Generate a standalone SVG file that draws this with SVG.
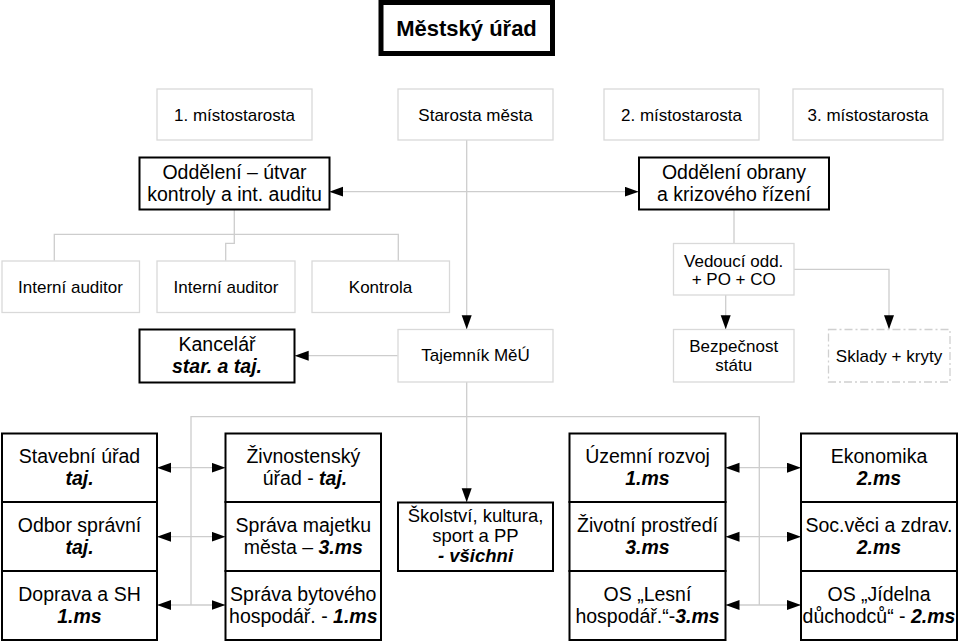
<svg xmlns="http://www.w3.org/2000/svg" width="959" height="642" viewBox="0 0 959 642">
<style>
.lb{fill:#fff;stroke:#d9d9d9;stroke-width:1.3}
.bb{fill:#fff;stroke:#000;stroke-width:2}
.ds{fill:#fff;stroke:#d0d0d0;stroke-width:1.3;stroke-dasharray:8 3 2 3}
text{font-family:"Liberation Sans",Arial,sans-serif;fill:#000;text-anchor:middle}
.s17{font-size:17px}
.s19{font-size:19.5px}
.s18{font-size:18.5px}
.bi{font-weight:bold;font-style:italic}
.c path{fill:none;stroke:#cdcdcd;stroke-width:1.3}
</style>
<defs>
<marker id="ar" markerUnits="userSpaceOnUse" markerWidth="15" markerHeight="11" refX="14" refY="5" orient="auto-start-reverse" viewBox="0 0 15 11">
<path d="M0,0 L14,5 L0,10 z" fill="#000"/>
</marker>
</defs>
<g class="c" id="connectors">
<path d="M466.7,140 V329.3" marker-end="url(#ar)"/>
<path d="M329.3,191.7 H638.7" marker-start="url(#ar)" marker-end="url(#ar)"/>
<path d="M234.3,209.3 V243.3 H225.7 V260.7"/>
<path d="M54.3,260.7 V234.3 H398.3 V260.7"/>
<path d="M734,210 V243.3"/>
<path d="M725.7,295 V329.3" marker-end="url(#ar)"/>
<path d="M794,269.3 H889 V329.3" marker-end="url(#ar)"/>
<path d="M397.7,355.7 H294.7" marker-end="url(#ar)"/>
<path d="M466.7,382 V502.3" marker-end="url(#ar)"/>
<path d="M191,605 V416.7 H759.3 V605"/>
<path d="M157,467.7 H225.5" marker-start="url(#ar)" marker-end="url(#ar)"/>
<path d="M157,536.7 H225.5" marker-start="url(#ar)" marker-end="url(#ar)"/>
<path d="M157,605 H225.5" marker-start="url(#ar)" marker-end="url(#ar)"/>
<path d="M725.5,467.7 H801" marker-start="url(#ar)" marker-end="url(#ar)"/>
<path d="M725.5,536.7 H801" marker-start="url(#ar)" marker-end="url(#ar)"/>
<path d="M725.5,605 H801" marker-start="url(#ar)" marker-end="url(#ar)"/>
</g>
<g id="mestsky-urad"><rect x="381" y="2.5" width="171.5" height="51" fill="#fff" stroke="#000" stroke-width="5"/><text x="466.5" y="36" style="font-size:22px;font-weight:bold">Městský úřad</text></g>
<g id="mistostarosta1"><rect class="lb" x="157" y="89" width="155" height="51"/><text class="s17" x="234.5" y="120.5">1. místostarosta</text></g>
<g id="starosta"><rect class="lb" x="398" y="89" width="155" height="51"/><text class="s17" x="475.5" y="120.5">Starosta města</text></g>
<g id="mistostarosta2"><rect class="lb" x="604" y="89" width="155" height="51"/><text class="s17" x="681.5" y="120.5">2. místostarosta</text></g>
<g id="mistostarosta3"><rect class="lb" x="793" y="89" width="150" height="51"/><text class="s17" x="868" y="120.5">3. místostarosta</text></g>
<g id="odd-kontroly"><rect class="bb" x="139.5" y="157.5" width="190" height="52"/><text class="s19" x="234.5" y="179">Oddělení – útvar</text><text class="s19" x="234.5" y="201">kontroly a int. auditu</text></g>
<g id="odd-obrany"><rect class="bb" x="639" y="157.5" width="190" height="52"/><text class="s19" x="734" y="179">Oddělení obrany</text><text class="s19" x="734" y="201">a krizového řízení</text></g>
<g id="auditor1"><rect class="lb" x="2" y="261" width="137.5" height="51.5"/><text class="s17" x="70.5" y="292.5">Interní auditor</text></g>
<g id="auditor2"><rect class="lb" x="157" y="261" width="138" height="51.5"/><text class="s17" x="226" y="292.5">Interní auditor</text></g>
<g id="kontrola"><rect class="lb" x="312" y="261" width="137.5" height="51.5"/><text class="s17" x="380.5" y="292.5">Kontrola</text></g>
<g id="vedouci"><rect class="lb" x="673.5" y="243.5" width="120.5" height="51.5"/><text class="s17" x="733.7" y="266.5">Vedoucí odd.</text><text class="s17" x="733.7" y="285">+ PO + CO</text></g>
<g id="kancelar"><rect class="bb" x="139.5" y="329.5" width="155" height="53"/><text class="s19" x="217" y="350.5">Kancelář</text><text class="s19 bi" x="217" y="372.5">star. a taj.</text></g>
<g id="tajemnik"><rect class="lb" x="398" y="329.5" width="155" height="52.5"/><text class="s17" x="475.5" y="361">Tajemník MěÚ</text></g>
<g id="bezpecnost"><rect class="lb" x="673.5" y="329.5" width="120.5" height="52.5"/><text class="s17" x="733.7" y="351.5">Bezpečnost</text><text class="s17" x="733.7" y="370.5">státu</text></g>
<g id="sklady"><rect class="ds" x="828.5" y="329.5" width="121.5" height="52.5"/><text class="s17" x="889" y="361.5">Sklady + kryty</text></g>
<g id="stavebni"><rect class="bb" x="2" y="433.5" width="155" height="68.5"/><text class="s19" x="79.5" y="463.3">Stavební úřad</text><text class="s19 bi" x="79.5" y="485">taj.</text></g>
<g id="spravni"><rect class="bb" x="2" y="502" width="155" height="69"/><text class="s19" x="79.5" y="532">Odbor správní</text><text class="s19 bi" x="79.5" y="554">taj.</text></g>
<g id="doprava"><rect class="bb" x="2" y="571" width="155" height="69"/><text class="s19" x="79.5" y="601">Doprava a SH</text><text class="s19 bi" x="79.5" y="623">1.ms</text></g>
<g id="zivnostensky"><rect class="bb" x="225.5" y="433.5" width="155.5" height="68.5"/><text class="s19" x="303.3" y="463.3">Živnostenský</text><text class="s19" x="305" y="485">úřad - <tspan class="bi">taj.</tspan></text></g>
<g id="majetek"><rect class="bb" x="225.5" y="502" width="155.5" height="69"/><text class="s19" x="303.3" y="532">Správa majetku</text><text class="s19" x="303.3" y="554">města – <tspan class="bi">3.ms</tspan></text></g>
<g id="bytove"><rect class="bb" x="225.5" y="571" width="155.5" height="69"/><text class="s19" x="303.3" y="601">Správa bytového</text><text class="s19" x="303.3" y="623">hospodář. - <tspan class="bi">1.ms</tspan></text></g>
<g id="skolstvi"><rect class="bb" x="398" y="502.5" width="155" height="68.5"/><text class="s18" x="475.5" y="521.5">Školství, kultura,</text><text class="s18" x="475.5" y="541.5">sport a PP</text><text class="s18 bi" x="475.5" y="561.5">- všichni</text></g>
<g id="uzemni"><rect class="bb" x="569.5" y="433.5" width="156" height="68.5"/><text class="s19" x="647.5" y="463.3">Územní rozvoj</text><text class="s19 bi" x="647.5" y="485">1.ms</text></g>
<g id="zivotni"><rect class="bb" x="569.5" y="502" width="156" height="69"/><text class="s19" x="647.5" y="532">Životní prostředí</text><text class="s19 bi" x="647.5" y="554">3.ms</text></g>
<g id="lesni"><rect class="bb" x="569.5" y="571" width="156" height="69"/><text class="s19" x="647.5" y="601">OS „Lesní</text><text class="s19" x="647.5" y="623">hospodář.“-<tspan class="bi">3.ms</tspan></text></g>
<g id="ekonomika"><rect class="bb" x="801" y="433.5" width="156" height="68.5"/><text class="s19" x="879" y="463.3">Ekonomika</text><text class="s19 bi" x="879" y="485">2.ms</text></g>
<g id="socialni"><rect class="bb" x="801" y="502" width="156" height="69"/><text class="s19" x="879" y="532">Soc.věci a zdrav.</text><text class="s19 bi" x="879" y="554">2.ms</text></g>
<g id="jidelna"><rect class="bb" x="801" y="571" width="156" height="69"/><text class="s19" x="879" y="601">OS „Jídelna</text><text class="s19" x="879" y="623">důchodců“ - <tspan class="bi">2.ms</tspan></text></g>
</svg>
